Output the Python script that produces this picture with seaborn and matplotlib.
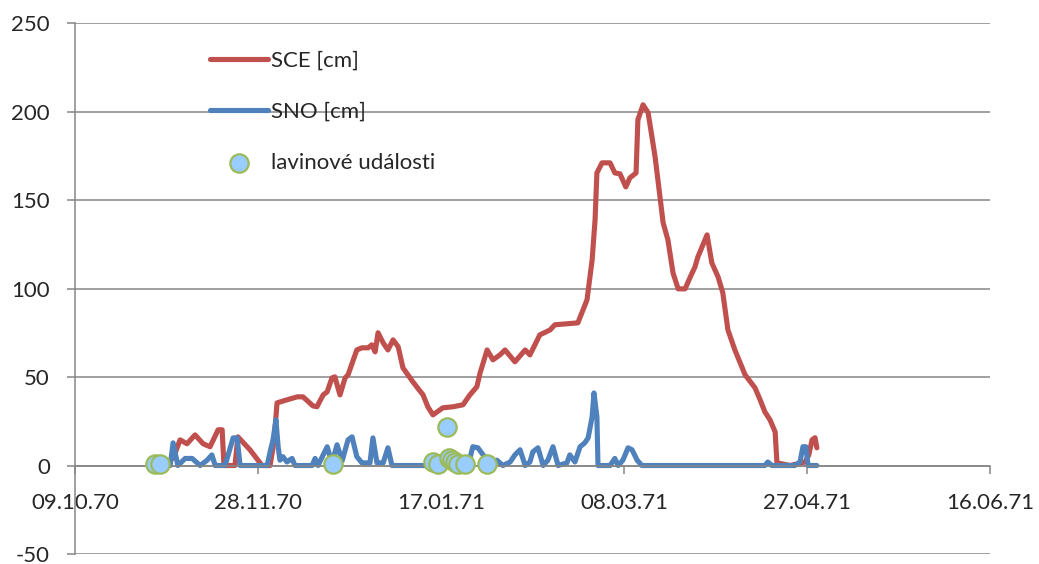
import pandas as pd
import matplotlib
matplotlib.use("Agg")
import matplotlib.pyplot as plt
import matplotlib.dates as mdates
import seaborn as sns

# days counted from 09.10.70
start = pd.Timestamp("1970-10-09")

sce_days = [26.8, 28.7, 30.6, 32.8, 35.0, 36.9, 39.1, 40.2, 40.7, 43.7, 44.5, 47.8, 51.1, 53.3,
            54.4, 55.2, 57.9, 60.7, 62.3, 65.0, 66.1, 67.8, 68.9, 70.2, 71.0, 72.4, 73.8, 74.6,
            77.0, 78.4, 80.1, 81.1, 82.0, 82.8, 84.2, 85.5, 86.9, 88.3, 89.6, 92.3, 95.1, 96.4,
            97.8, 100.5, 103.3, 106.0, 107.9, 109.8, 110.7, 112.6, 114.2, 116.1, 117.5, 120.2,
            123.0, 124.3, 127.0, 129.8, 131.1, 137.4, 139.9, 141.3, 142.1, 142.6, 144.0, 146.2,
            147.5, 148.9, 150.5, 151.6, 153.3, 153.8, 155.2, 156.6, 158.5, 160.7, 162.0, 163.4,
            164.8, 166.7, 168.0, 169.4, 170.2, 172.7, 174.0, 175.7, 177.0, 178.4, 180.3, 183.1,
            185.8, 187.2, 188.5, 189.9, 191.3, 191.8, 195.4, 199.5, 200.5, 201.4, 202.2, 202.7]
sce_cm = [4, 14.5, 12.3, 17.3, 12.3, 10.6, 20.2, 20.2, 0, 0, 16.2, 8.9, 0, 0,
          14, 35.4, 37.1, 38.8, 38.8, 33.7, 33.2, 39.9, 41.6, 49.5, 50.1, 39.9, 49.5, 51.2,
          65.3, 66.5, 66.5, 68.2, 64.2, 75.0, 69.3, 65.3, 71.0, 67.1, 55.2, 47.3, 39.9, 33.2,
          28.6, 32.6, 33.2, 34.3, 39.9, 44.5, 52.4, 65.3, 59.7, 62.5, 65.3, 58.6,
          65.3, 62.5, 73.8, 76.6, 79.5, 80.6, 93.6, 116.2, 138.8, 165.3, 171, 171,
          165.3, 164.8, 157.4, 162.5, 165.3, 195.3, 203.8, 199.3, 174.4, 137.1, 127.5, 108.8,
          99.8, 99.8, 106, 112.2, 117.9, 130.3, 114.5, 106.6, 97.6, 76.6, 65.3, 51.2,
          43.9, 37.1, 30.3, 25.8, 19.0, 1.5, 0, 2, 6, 14.5, 15.7, 10]

sno_days = [26.0, 26.8, 28.1, 30.1, 32.0, 34.2, 36.1, 37.4, 38.3, 41.0, 43.2, 44.3, 45.1, 52.5,
            53.3, 54.1, 54.9, 55.5, 56.0, 56.8, 57.9, 59.3, 60.1, 64.8, 65.6, 66.4, 68.9, 70.2,
            71.6, 73.0, 74.6, 75.7, 77.0, 78.4, 80.6, 81.4, 82.5, 84.2, 85.5, 86.6, 107.4,
            108.7, 110.1, 111.5, 113.4, 115.3, 116.9, 118.9, 120.2, 121.6, 123.0, 124.3, 125.1,
            126.5, 127.9, 129.2, 130.6, 132.0, 134.4, 135.2, 136.6, 138.0, 139.3, 140.2, 141.3,
            141.8, 142.6, 142.9, 146.2, 147.5, 148.4, 149.7, 151.1, 152.2, 153.6, 154.9, 188.5,
            189.3, 190.4, 196.7, 198.1, 198.9, 199.7, 200.3, 201.4, 202.7]
sno_cm = [0, 12.8, 0, 4, 4, 0, 3, 6, 0, 0, 15.6, 15.6, 0, 0,
          7.7, 14.5, 25.8, 10.6, 3, 5, 2, 4, 0, 0, 4, 0, 10.6, 1.5,
          11.7, 2.7, 14.5, 16.2, 5, 1.5, 1.5, 15.6, 1.5, 1.5, 10, 0, 0,
          10.6, 10, 6, 2, 3, 0, 2, 6, 8.9, 0, 2, 7.7,
          10, 0, 3, 10.6, 0, 1.5, 6, 2, 10.6, 12.8, 15.6, 27.5,
          41, 27.5, 0, 0, 4, 0, 3, 10, 8.9, 3, 0, 0,
          2, 0, 0, 2, 10.6, 10.6, 0, 0, 0]

event_days = [21.9, 23.2, 70.5, 97.8, 99.2, 101.6, 102.2, 103.0, 103.8, 104.6, 106.6, 112.6]
event_cm = [1, 1, 1, 2, 1, 22, 4, 3, 2, 1, 1, 1]

tick_days = [0, 50, 100, 150, 200, 250]

sce = pd.DataFrame({"date": start + pd.to_timedelta(sce_days, unit="D"), "cm": sce_cm})
sno = pd.DataFrame({"date": start + pd.to_timedelta(sno_days, unit="D"), "cm": sno_cm})
events = pd.DataFrame({"date": start + pd.to_timedelta(event_days, unit="D"), "cm": event_cm})

sns.set_style("white")
plt.rcParams["font.family"] = ["Lato", "DejaVu Sans"]
plt.rcParams["axes.unicode_minus"] = False
grey = "#868686"

fig = plt.figure(figsize=(10.39, 5.64), dpi=100)
ax = fig.add_axes([0.0722, 0.0177, 0.8806, 0.9415])

ax.set_ylim(-50, 250)
ax.set_yticks(range(-50, 251, 50))
ax.grid(axis="y", color=grey, linewidth=1.1)
ax.set_axisbelow(True)

sns.lineplot(data=sce, x="date", y="cm", ax=ax, color="#C0504D", linewidth=3.7,
             estimator=None, sort=False, label="SCE [cm]",
             solid_joinstyle="round", solid_capstyle="round")
sns.lineplot(data=sno, x="date", y="cm", ax=ax, color="#4F81BD", linewidth=3.7,
             estimator=None, sort=False, label="SNO [cm]",
             solid_joinstyle="round", solid_capstyle="round")
sns.scatterplot(data=events, x="date", y="cm", ax=ax, color="#99CCFF", edgecolor="#9BBB59",
                linewidth=1.6, s=175, zorder=5, label="lavinové události")

ax.set_xlim(start, start + pd.Timedelta(days=250))
ax.set_xticks(start + pd.to_timedelta(tick_days, unit="D"))
ax.xaxis.set_major_formatter(mdates.DateFormatter("%d.%m.%y"))

for side in ["top", "right"]:
    ax.spines[side].set_visible(False)
ax.spines["bottom"].set_position(("data", 0))
ax.spines["bottom"].set_color(grey)
ax.spines["left"].set_color(grey)
ax.spines["bottom"].set_linewidth(1.1)
ax.spines["left"].set_linewidth(1.1)
ax.tick_params(axis="x", direction="out", length=6, width=1.1, color=grey, pad=14,
               labelsize=16, bottom=True)
ax.tick_params(axis="y", direction="out", length=6, width=1.1, color=grey, pad=12,
               labelsize=16, left=True)
ax.set_xlabel("")
ax.set_ylabel("")

ax.legend(loc="upper left", bbox_to_anchor=(0.126, 0.985), frameon=False, fontsize=16,
          handlelength=2.6, handletextpad=0.15, labelspacing=1.4)

fig.savefig("out.png", dpi=100)
